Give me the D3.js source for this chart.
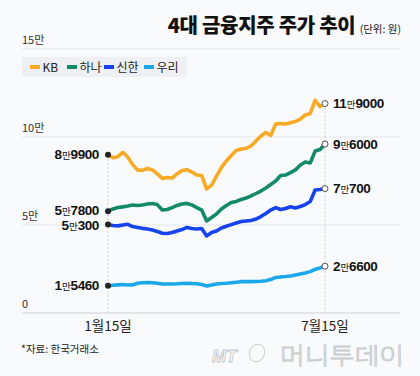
<!DOCTYPE html>
<html><head><meta charset="utf-8">
<script src="https://cdn.jsdelivr.net/npm/d3@7"></script>
<style>
html,body{margin:0;padding:0;background:#f9fafb;}
svg{display:block;}
</style></head>
<body><svg id="c" width="420" height="376"></svg>
<script>
const seriesNames = ["KB", "하나", "신한", "우리"];
const seriesColors = ["#f7aa24", "#138a6a", "#1743ee", "#1ba8ea"];
const xTickLabels = ["1월15일", "7월15일"];
const yTicks = [0, 50000, 100000, 150000];
const yTickLabels = ["0", "5만", "10만", "15만"];

const kbValues = [89900,88200,88800,91300,88600,84300,81300,81000,82100,81300,79000,76500,77000,76700,79000,81000,81400,80100,78400,78100,70500,72700,77800,82700,86400,89500,92300,93200,93500,94900,97700,100600,102600,100900,107400,107700,107400,108100,108800,110200,112500,113400,120800,117300,119000];
const hanaValues = [57800,59100,59900,60300,60800,61400,61100,61400,61900,62200,61600,58500,58800,59900,61100,61900,62300,61400,59900,58500,52300,54300,56300,59100,61100,62800,63400,64500,65300,66500,67900,69300,71000,73000,75000,78100,78400,79800,81300,84100,85800,85200,92000,92900,96000];
const shinhanValues = [50300,49700,49500,50000,50400,49100,48600,48100,47700,47200,46300,45300,45200,45700,46600,47400,48600,48000,47700,48000,43800,45700,46600,48300,49300,50200,51100,52000,52300,52600,53400,54800,56500,58500,59900,58800,59400,60400,59700,60500,61600,63400,69900,70200,70700];
const wooriValues = [15460,15800,16000,16200,15900,16000,16900,17200,17300,17200,16900,16500,16500,16500,16600,16800,16900,16800,16600,16200,15300,15900,16500,16800,16900,17200,17500,17800,17800,17800,17900,18000,18300,19000,20200,20500,20700,21000,21600,22200,22700,23500,24800,25600,26600];

const allValues = [kbValues, hanaValues, shinhanValues, wooriValues];

const svg = d3.select("#c");
const FONT = "'Liberation Sans','Noto Sans CJK KR',sans-serif";
const KFONT = "'Noto Sans CJK KR','Liberation Sans',sans-serif";

const x = d3.scaleLinear().domain([0, kbValues.length - 1]).range([108, 325]);
const y = d3.scaleLinear().domain([0, 150000]).range([313, 49]);

// Title
const title = svg.append("text").attr("x", 401).attr("y", 33).attr("text-anchor", "end")
  .attr("font-family", KFONT).attr("fill", "#111");
title.append("tspan").attr("font-size", 20).attr("font-weight", 900).attr("letter-spacing", -0.3).text("4대 금융지주 주가 추이 ");
title.append("tspan").attr("font-size", 10.5).attr("font-weight", 400).attr("fill", "#222").text("(단위: 원)");

// Gridlines & y tick labels
yTicks.forEach((t, i) => {
  svg.append("line").attr("x1", 22).attr("x2", 400).attr("y1", y(t)).attr("y2", y(t))
    .attr("stroke", i === 0 ? "#cfd1d5" : "#e4e6ea").attr("stroke-width", 1);
  svg.append("text").attr("x", 22).attr("y", y(t) - 5).attr("font-family", KFONT)
    .attr("font-size", 11).attr("fill", "#333").text(yTickLabels[i]);
});

// Legend
svg.append("rect").attr("x", 22).attr("y", 57).attr("width", 165).attr("height", 20).attr("fill", "#eff0f3");
const legendPos = [30, 67, 104, 144];
seriesNames.forEach((n, i) => {
  svg.append("rect").attr("x", legendPos[i]).attr("y", 65).attr("width", 10).attr("height", 4).attr("fill", seriesColors[i]);
  svg.append("text").attr("x", legendPos[i] + 12.5).attr("y", 71.5).attr("font-family", KFONT)
    .attr("font-size", 12).attr("fill", "#222").text(n);
});

// Vertical dashed lines
const lastIdx = kbValues.length - 1;
svg.append("line").attr("x1", x(0)).attr("x2", x(0)).attr("y1", y(kbValues[0])).attr("y2", y(0))
  .attr("stroke", "#c9cbd0").attr("stroke-width", 1).attr("stroke-dasharray", "2,2");
svg.append("line").attr("x1", x(lastIdx)).attr("x2", x(lastIdx)).attr("y1", y(kbValues[lastIdx])).attr("y2", y(0))
  .attr("stroke", "#c9cbd0").attr("stroke-width", 1).attr("stroke-dasharray", "2,2");

// Lines
const line = d3.line().x((d, i) => x(i)).y(d => y(d)).curve(d3.curveLinear);
allValues.forEach((vals, s) => {
  svg.append("path").datum(vals).attr("d", line).attr("fill", "none")
    .attr("stroke", seriesColors[s]).attr("stroke-width", 3.6).attr("stroke-linejoin", "round").attr("stroke-linecap", "round");
});

function labelParts(v) {
  const man = Math.floor(v / 10000);
  const rest = v % 10000;
  return [String(man), "만", String(rest)];
}
function drawLabel(v, px, py, anchor, nudge) {
  const p = labelParts(v);
  const t = svg.append("text").attr("x", px).attr("y", py + 4.5 + nudge).attr("text-anchor", anchor)
    .attr("font-family", FONT).attr("font-weight", 700).attr("fill", "#111").attr("letter-spacing", -0.4);
  t.append("tspan").attr("font-size", 13.5).text(p[0]);
  t.append("tspan").attr("font-size", 9.5).attr("font-weight", 400).attr("font-family", KFONT).attr("dx", 0.3).text(p[1]);
  t.append("tspan").attr("font-size", 13.5).attr("dx", 0.3).text(p[2]);
}

const leftNudge = [0, -1, 1.5, 0];
allValues.forEach((vals, s) => {
  const v0 = vals[0], v1 = vals[lastIdx];
  svg.append("circle").attr("cx", x(0)).attr("cy", y(v0)).attr("r", 3).attr("fill", "#222");
  svg.append("circle").attr("cx", x(lastIdx)).attr("cy", y(v1)).attr("r", 3).attr("fill", "#fff")
    .attr("stroke", "#555").attr("stroke-width", 1);
  drawLabel(v0, 99, y(v0), "end", leftNudge[s]);
  drawLabel(v1, 333, y(v1), "start", 0);
});

// X tick labels
[0, lastIdx].forEach((idx, i) => {
  svg.append("text").attr("x", x(idx)).attr("y", 331).attr("text-anchor", "middle")
    .attr("font-family", KFONT).attr("font-size", 13.5).attr("fill", "#222").text(xTickLabels[i]);
});

// Source
svg.append("text").attr("x", 21).attr("y", 353).attr("font-family", KFONT).attr("font-size", 10.5)
  .attr("fill", "#222").text("*자료: 한국거래소");

// Watermark
const wm = svg.append("g").attr("fill", "none").attr("stroke", "#c4c6ca").attr("stroke-width", 0.8);
wm.append("text").attr("x", 212).attr("y", 362).attr("font-family", FONT).attr("font-style", "italic")
  .attr("font-size", 17).attr("font-weight", 700).text("MT");
wm.append("ellipse").attr("cx", 257).attr("cy", 353).attr("rx", 7.5).attr("ry", 9).attr("transform", "rotate(20,257,353)");
wm.append("text").attr("x", 280).attr("y", 364).attr("font-family", KFONT).attr("font-size", 23)
  .attr("font-weight", 300).attr("textLength", 124).attr("lengthAdjust", "spacingAndGlyphs").text("머니투데이");
</script>
</body></html>
